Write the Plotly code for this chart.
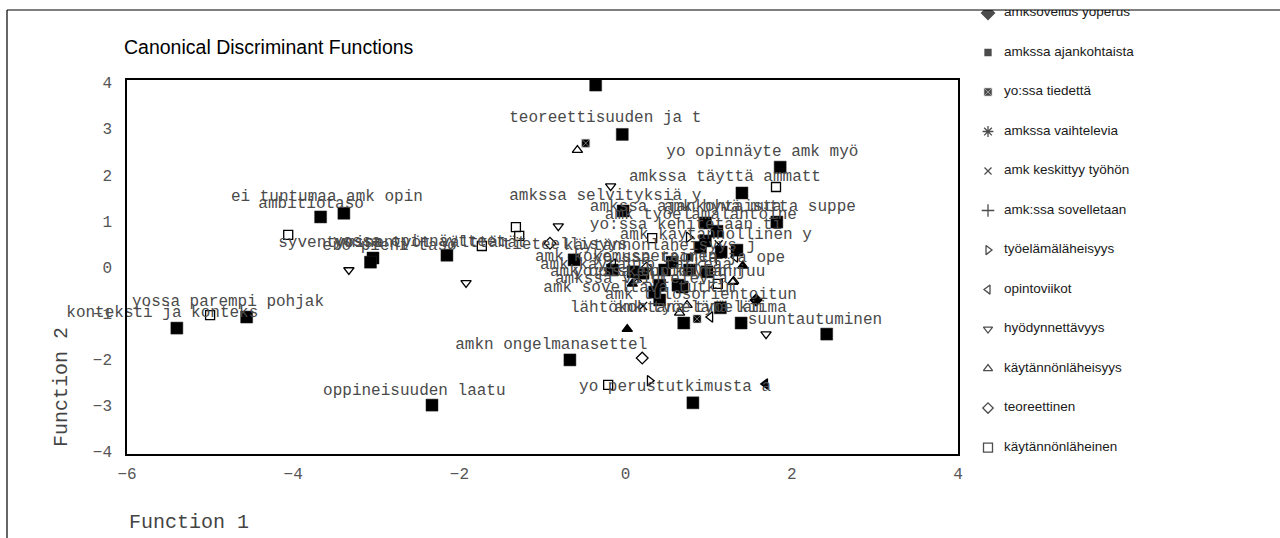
import plotly.graph_objects as go

W, H = 1280, 538

# ---- Group centroids (big black squares) ----
cent_x = [-0.36, -0.04, 1.86, 1.40, -0.03, 1.82, 0.96, 1.10, 0.96, 1.34, -0.62,
          -3.67, -3.39, -3.04, -3.07, -2.15, -5.40, -4.56, -2.33, -0.67, 0.81,
          2.42, 1.39, 0.70, 1.14, 0.41, 0.68, 0.41, 0.09, 0.21, 0.47, 0.77, 0.98,
          0.63, 0.35, 0.56, -0.16, 0.90, 1.15]
cent_y = [3.95, 2.88, 2.17, 1.61, 1.22, 0.98, 0.96, 0.78, 0.57, 0.37, 0.16,
          1.09, 1.17, 0.20, 0.11, 0.26, -1.32, -1.08, -2.99, -2.01, -2.94,
          -1.45, -1.21, -1.21, -0.88, -0.39, -0.43, -0.71, -0.10, -0.13, -0.06, -0.06, -0.10,
          -0.39, -0.54, 0.11, -0.06, 0.43, 0.33]

# ---- Centroid labels ----
lab_text = ["teoreettisuuden ja t", "yo opinnäyte amk myö", "amkssa täyttä ammatt",
            "amkssa selvityksiä y", "amkssa ajankohtaista", "amk hyvä mutta suppe",
            "amk työelämälähtöine", "yo:ssa kehitetään ti", "amk käytännöllinen y",
            "ei tuntumaa amk opin", "ambitiotaso", "syventyminen", "ero pieni taso",
            "yossa opinnäytteet", "yossa työt välttämät", "tieteellisyys",
            "käytännönläheisyys j", "amk kokemusperäinen", "yo:ssa teoria ja ope",
            "amk käytäntö tärkeää", "amk opiskelu käytänn", "yo:ssa oppiminen juu",
            "amkssa vaihtelevia", "amk soveltava tutkim", "amk tulosorientoitun",
            "lähtökohtana työeläm", "amk työelämä kiima", "suuntautuminen",
            "amkn ongelmanasettel", "oppineisuuden laatu", "yo perustutkimusta a",
            "yossa parempi pohjak", "konteksti ja konteks"]
lab_x = [-1.40, 0.49, 0.04, -1.40, -0.43, 0.46, -0.25, -0.43, -0.07,
         -4.75, -4.42, -4.18, -3.65, -3.52, -3.50, -1.48, -0.74, -1.09, -0.39,
         -1.03, -0.91, -0.63, -0.85, -0.99, -0.25, -0.67, -0.14, 1.47,
         -2.05, -3.64, -0.56, -5.94, -4.42]
lab_y = [3.23, 2.50, 1.95, 1.54, 1.30, 1.30, 1.13, 0.91, 0.70,
         1.52, 1.37, 0.52, 0.46, 0.55, 0.53, 0.48, 0.46, 0.22, 0.20,
         0.04, -0.10, -0.10, -0.25, -0.45, -0.60, -0.88, -0.88, -1.15,
         -1.69, -2.68, -2.59, -0.75, -0.99]
lab_side = ["middle right"] * 32 + ["middle left"]

# ---- Individual group points ----
kaytannonlaheinen_x = [-4.06, -1.32, -1.28, -1.73, -5.00, 1.81, 0.32, 1.11, -0.21]
kaytannonlaheinen_y = [0.70, 0.87, 0.68, 0.46, -1.04, 1.74, 0.63, -0.36, -2.55]
teoreettinen_x = [-0.91, 0.20, 0.25]
teoreettinen_y = [0.52, -1.97, -0.02]
kaytannonlaheisyys_x = [-0.58, 1.29, 0.74, 0.65, 1.30]
kaytannonlaheisyys_y = [2.54, -0.32, -0.82, -0.99, -0.30]
hyodynnettavyys_x = [-0.18, -0.81, -3.33, -1.92, 1.69]
hyodynnettavyys_y = [1.76, 0.89, -0.06, -0.34, -1.45]
opintoviikot_x = [-0.15, 1.32, 1.02]
opintoviikot_y = [0.07, 0.22, -1.08]
tyoelamalaheisyys_x = [0.76, 0.29]
tyoelamalaheisyys_y = [0.65, -2.46]
sovelletaan_x = [1.09]
sovelletaan_y = [0.20]
keskittyy_x = [1.12, 0.21]
keskittyy_y = [0.50, -0.84]
vaihtelevia_x = [0.15]
vaihtelevia_y = [-0.23]
tiedetta_x = [-0.48, 0.86]
tiedetta_y = [2.69, -1.12]
ajankohtaista_x = [0.77]
ajankohtaista_y = [0.22]
yoperus_x = [1.57]
yoperus_y = [-0.71]
# groups whose legend entries are cut off above the visible legend
hidden_up_x = [0.02, 0.08, 1.41]
hidden_up_y = [-1.34, -0.36, 0.03]
hidden_left_x = [1.68]
hidden_left_y = [-2.53]

# ---- Legend entries ----
leg_names = ["amksovellus yoperus", "amkssa ajankohtaista", "yo:ssa tiedettä",
             "amkssa vaihtelevia", "amk keskittyy työhön", "amk:ssa sovelletaan",
             "työelämäläheisyys", "opintoviikot", "hyödynnettävyys",
             "käytännönläheisyys", "teoreettinen", "käytännönläheinen"]
leg_symbols = ["diamond", "square", "square-x", "asterisk-open", "x-thin-open",
               "cross-thin-open", "triangle-right-open", "triangle-left-open",
               "triangle-down-open", "triangle-up-open", "diamond-open", "square-open"]
leg_sizes = [10, 6, 8, 9, 7, 9, 8, 8, 8, 8, 8, 9]
leg_line = ["black", "black", "#bbbbbb", "black", "black", "black", "black",
            "black", "black", "black", "black", "black"]
leg_lw = [1.3, 1.3, 0.6, 1.3, 1.3, 1.3, 1.3, 1.3, 1.3, 1.3, 1.3, 1.3]

groups = [
    (yoperus_x, yoperus_y, "diamond", 9, "black", 1.3),
    (ajankohtaista_x, ajankohtaista_y, "square", 6, "black", 1.3),
    (tiedetta_x, tiedetta_y, "square-x", 8, "#bbbbbb", 0.6),
    (vaihtelevia_x, vaihtelevia_y, "asterisk-open", 9, "black", 1.3),
    (keskittyy_x, keskittyy_y, "x-thin-open", 8, "black", 1.3),
    (sovelletaan_x, sovelletaan_y, "cross-thin-open", 9, "black", 1.3),
    (tyoelamalaheisyys_x, tyoelamalaheisyys_y, "triangle-right-open", 9, "black", 1.3),
    (opintoviikot_x, opintoviikot_y, "triangle-left-open", 9, "black", 1.3),
    (hyodynnettavyys_x, hyodynnettavyys_y, "triangle-down-open", 9, "black", 1.3),
    (kaytannonlaheisyys_x, kaytannonlaheisyys_y, "triangle-up-open", 9, "black", 1.3),
    (teoreettinen_x, teoreettinen_y, "diamond-open", 9, "black", 1.3),
    (kaytannonlaheinen_x, kaytannonlaheinen_y, "square-open", 9, "black", 1.3),
    (hidden_up_x, hidden_up_y, "triangle-up", 9, "black", 1.3),
    (hidden_left_x, hidden_left_y, "triangle-left", 9, "black", 1.3),
]

fig = go.Figure()

for gx, gy, sym, sz, lc, lw in groups:
    fig.add_trace(go.Scatter(
        x=gx, y=gy, mode="markers", showlegend=False, hoverinfo="skip",
        marker=dict(symbol=sym, size=sz, color="black",
                    line=dict(color=lc, width=lw))))

fig.add_trace(go.Scatter(
    x=cent_x, y=cent_y, mode="markers", showlegend=False,
    marker=dict(symbol="square", size=12, color="black",
                line=dict(color="#222", width=0.5))))

fig.add_trace(go.Scatter(
    x=lab_x, y=lab_y, mode="text", text=lab_text, textposition=lab_side,
    cliponaxis=False, showlegend=False, hoverinfo="skip",
    textfont=dict(family="Liberation Mono, Courier New, monospace", size=16,
                  color="#4a4a4a")))

# custom legend on its own hidden axes, clipped at the top frame line
leg_idx = list(range(len(leg_names)))
fig.add_trace(go.Scatter(
    x=[0] * len(leg_names), y=leg_idx, mode="markers", xaxis="x2", yaxis="y2",
    showlegend=False, hoverinfo="skip",
    marker=dict(symbol=leg_symbols, size=leg_sizes, color="black",
                line=dict(color=leg_line, width=leg_lw))))
fig.add_trace(go.Scatter(
    x=[16] * len(leg_names), y=leg_idx, mode="text", text=leg_names,
    textposition="middle right", xaxis="x2", yaxis="y2", showlegend=False,
    hoverinfo="skip", cliponaxis=True,
    textfont=dict(family="Liberation Sans, Arial, sans-serif", size=13.5,
                  color="#1a1a1a")))

mono = "Liberation Mono, Courier New, monospace"
fig.update_layout(
    width=W, height=H, margin=dict(l=0, r=0, t=0, b=0),
    paper_bgcolor="white", plot_bgcolor="white",
    xaxis=dict(domain=[127 / W, 958 / W], range=[-6, 4], tickvals=[-6, -4, -2, 0, 2, 4],
               showgrid=False, zeroline=False, showline=True, mirror=True,
               linecolor="black", linewidth=1.5, ticks="outside", ticklen=4,
               tickcolor="rgba(0,0,0,0)", automargin=False,
               tickfont=dict(family=mono, size=16, color="#555")),
    yaxis=dict(domain=[1 - 454 / H, 1 - 80 / H], range=[-4.05, 4.06],
               tickvals=[-4, -3, -2, -1, 0, 1, 2, 3, 4],
               showgrid=False, zeroline=False, showline=True, mirror=True,
               linecolor="black", linewidth=1.5, ticks="outside", ticklen=10,
               tickcolor="rgba(0,0,0,0)", automargin=False,
               tickfont=dict(family=mono, size=16, color="#555")),
    xaxis2=dict(domain=[975 / W, 1], range=[-13, 292], visible=False, fixedrange=True,
                anchor="y2"),
    yaxis2=dict(domain=[0, 1 - 10 / H], range=[13.29, -0.076], visible=False,
                fixedrange=True, anchor="x2"),
    shapes=[
        dict(type="line", xref="paper", yref="paper", x0=7 / W, x1=1, y0=1 - 10 / H,
             y1=1 - 10 / H, line=dict(color="black", width=1.2)),
        dict(type="line", xref="paper", yref="paper", x0=7 / W, x1=7 / W, y0=0,
             y1=1 - 10 / H, line=dict(color="black", width=1.2)),
    ],
    annotations=[
        dict(text="Canonical Discriminant Functions", xref="paper", yref="paper",
             x=122 / W, y=1 - 47 / H, xanchor="left", yanchor="middle", showarrow=False,
             font=dict(family="Liberation Sans, Arial, sans-serif", size=19.5, color="black")),
        dict(text="Function 1", xref="paper", yref="paper", x=127 / W, y=1 - 522 / H,
             xanchor="left", yanchor="middle", showarrow=False,
             font=dict(family=mono, size=20, color="#444")),
        dict(text="Function 2", xref="paper", yref="paper", x=61 / W, y=1 - 387 / H,
             xanchor="center", yanchor="middle", showarrow=False, textangle=-90,
             font=dict(family=mono, size=20, color="#444")),
    ],
)

fig.write_html("out.html", config={"displayModeBar": False},
               post_script="document.body.style.margin='0';document.body.style.overflow='hidden';")
